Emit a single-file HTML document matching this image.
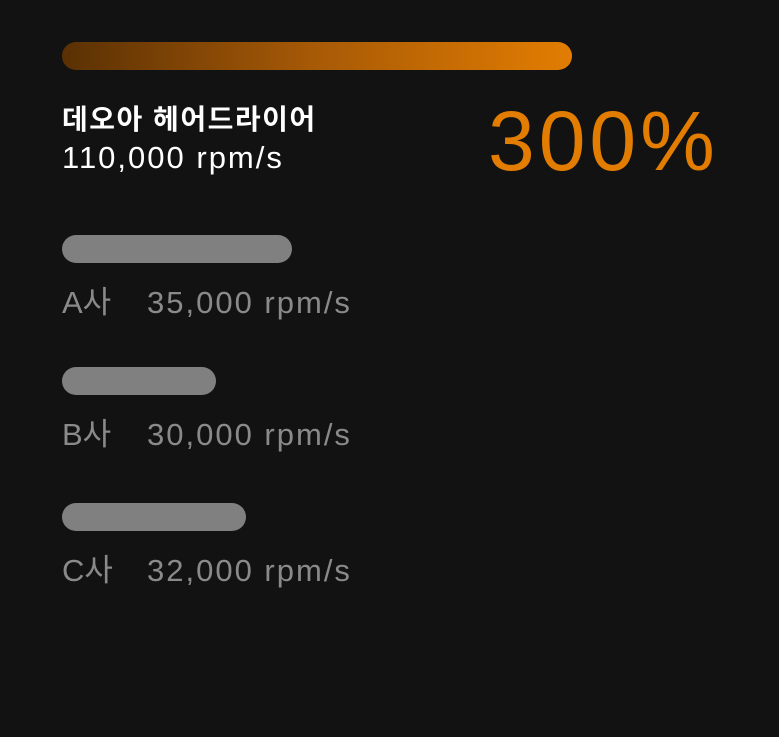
<!DOCTYPE html>
<html><head><meta charset="utf-8">
<style>
html,body{margin:0;padding:0;background:#121212;}
body{width:779px;height:737px;position:relative;overflow:hidden;font-family:"Liberation Sans","Noto Sans CJK KR",sans-serif;}
.bar{position:absolute;left:62px;height:28px;border-radius:14px;}
.t{position:absolute;white-space:nowrap;}
</style></head>
<body>
<div id="main-bar" class="bar" style="top:42px;background:linear-gradient(90deg,#5a3104,#a85a06 50%,#e27d02);"></div>
<div class="t" style="left:62px;top:98px;font-size:28px;color:#fff;font-weight:bold;letter-spacing:1.5px;">데오아 헤어드라이어</div>
<div class="t" id="main-value" style="left:62px;top:140px;font-size:31px;color:#fff;letter-spacing:2px;"></div>
<div class="t" id="pct" style="left:488px;top:93px;font-size:84px;color:#e27d02;letter-spacing:4px;"></div>
<div id="comps"></div>
<script>
const mainName = "데오아 헤어드라이어";
const mainValue = 110000;
const competitorNames = ["A사", "B사", "C사"];
const competitorValues = [35000, 30000, 32000];
const percentLabel = "300%";

function fmt(v){return v.toLocaleString('en-US') + " rpm/s";}
function mainScale(v){return v / 110000 * 510;}
function compScale(v){return Math.max(20, (v - 19900) / (35000 - 19900) * 230);}

document.getElementById('main-bar').style.width = mainScale(mainValue) + 'px';
document.getElementById('main-value').textContent = fmt(mainValue);
document.getElementById('pct').textContent = percentLabel;

const wrap = document.getElementById('comps');
const rowTop = [235, 367, 503];
competitorNames.forEach((n, i) => {
  const top = rowTop[i];
  const b = document.createElement('div');
  b.className = 'bar';
  
  
  b.style.top = top + 'px';
  b.style.background = '#808080';
  b.style.width = compScale(competitorValues[i]) + 'px';
  wrap.appendChild(b);
  const l = document.createElement('div');
  l.className = 't';
  
  
  l.style.left = '62px';
  l.style.top = (top + 42) + 'px';
  l.style.fontSize = '31px';
  l.style.letterSpacing = '2px';
  l.style.color = '#8a8a8a';
  l.innerHTML = '<span style="display:inline-block;width:85px;letter-spacing:0">' + n + '</span>' + fmt(competitorValues[i]);
  wrap.appendChild(l);
});
</script>
</body></html>
